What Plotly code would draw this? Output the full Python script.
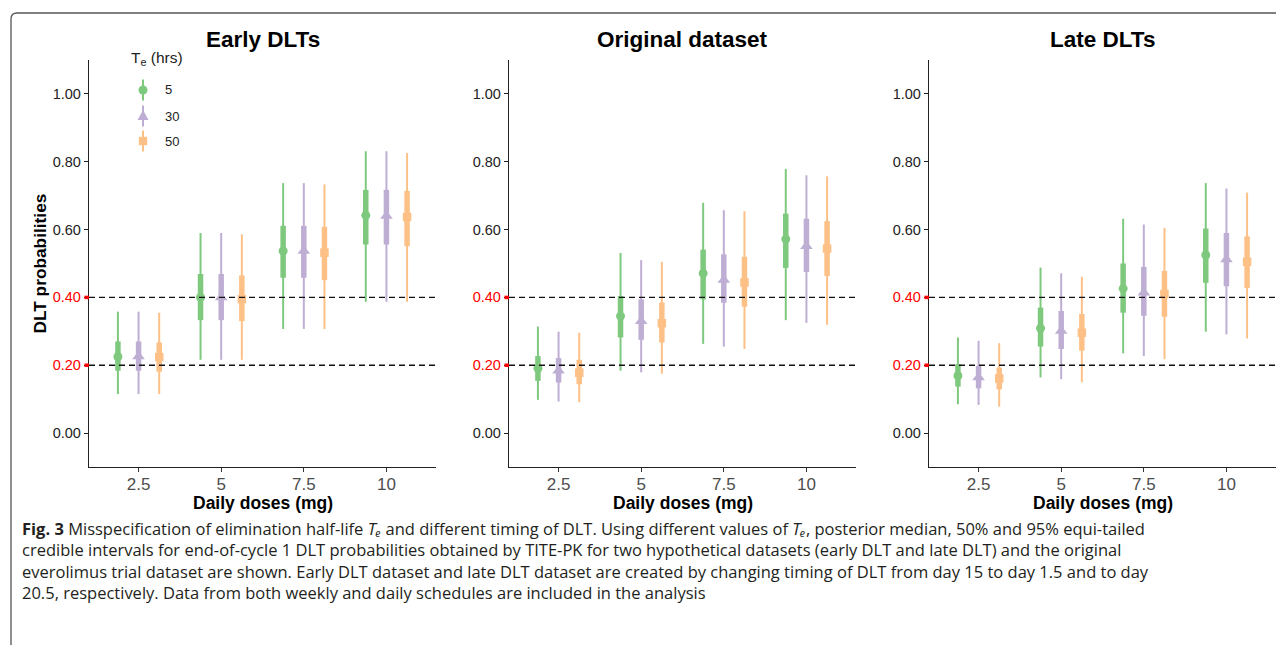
import plotly.graph_objects as go

W, H = 1284, 645
OFF = 8  # browser body margin
FW, FH = W - OFF, H - OFF

# ---------------- data ----------------
doses = [2.5, 5, 7.5, 10]
dose_labels = ["2.5", "5", "7.5", "10"]
te_labels = ["5", "30", "50"]
panel_titles = ["Early DLTs", "Original dataset", "Late DLTs"]
y_ticks = [0.0, 0.2, 0.4, 0.6, 0.8, 1.0]
y_ticklabels = ["0.00", "0.20", "0.40", "0.60", "0.80", "1.00"]
target_lines = [0.2, 0.4]

# rows: Te = 5, 30, 50 ; columns: doses 2.5, 5, 7.5, 10
early_median = [[0.225, 0.400, 0.537, 0.642], [0.226, 0.400, 0.537, 0.640], [0.224, 0.395, 0.532, 0.637]]
early_lo50 = [[0.184, 0.333, 0.458, 0.556], [0.184, 0.333, 0.458, 0.556], [0.181, 0.330, 0.451, 0.551]]
early_hi50 = [[0.270, 0.469, 0.611, 0.717], [0.270, 0.469, 0.611, 0.717], [0.267, 0.465, 0.608, 0.714]]
early_lo95 = [[0.115, 0.216, 0.307, 0.387], [0.115, 0.216, 0.307, 0.387], [0.115, 0.216, 0.307, 0.387]]
early_hi95 = [[0.358, 0.590, 0.737, 0.831], [0.358, 0.590, 0.737, 0.831], [0.355, 0.586, 0.733, 0.826]]

orig_median = [[0.191, 0.345, 0.471, 0.572], [0.184, 0.330, 0.451, 0.551], [0.178, 0.324, 0.444, 0.544]]
orig_lo50 = [[0.154, 0.282, 0.394, 0.487], [0.149, 0.275, 0.384, 0.475], [0.144, 0.267, 0.373, 0.463]]
orig_hi50 = [[0.227, 0.404, 0.541, 0.647], [0.221, 0.394, 0.527, 0.632], [0.216, 0.385, 0.520, 0.625]]
orig_lo95 = [[0.098, 0.184, 0.263, 0.333], [0.093, 0.179, 0.255, 0.325], [0.091, 0.175, 0.248, 0.319]]
orig_hi95 = [[0.314, 0.531, 0.679, 0.779], [0.299, 0.510, 0.657, 0.760], [0.296, 0.505, 0.654, 0.757]]

late_median = [[0.169, 0.309, 0.426, 0.525], [0.164, 0.301, 0.414, 0.512], [0.161, 0.296, 0.410, 0.505]]
late_lo50 = [[0.137, 0.255, 0.355, 0.443], [0.132, 0.248, 0.346, 0.433], [0.129, 0.243, 0.343, 0.428]]
late_hi50 = [[0.203, 0.370, 0.500, 0.603], [0.198, 0.360, 0.490, 0.590], [0.193, 0.351, 0.478, 0.580]]
late_lo95 = [[0.085, 0.164, 0.235, 0.299], [0.083, 0.159, 0.227, 0.291], [0.078, 0.150, 0.218, 0.279]]
late_hi95 = [[0.282, 0.488, 0.632, 0.737], [0.272, 0.471, 0.615, 0.721], [0.265, 0.461, 0.605, 0.709]]

caption_lines = [
    "<b>Fig. 3</b> Misspecification of elimination half-life <i>T\u2091</i> and different timing of DLT. "
    "Using different values of <i>T\u2091</i>, posterior median, 50% and 95% equi-tailed",
    "credible intervals for end-of-cycle 1 DLT probabilities obtained by TITE-PK for two hypothetical datasets "
    "(early DLT and late DLT) and the original",
    "everolimus trial dataset are shown. Early DLT dataset and late DLT dataset are created by changing timing "
    "of DLT from day 15 to day 1.5 and to day",
    "20.5, respectively. Data from both weekly and daily schedules are included in the analysis",
]

# ---------------- styling ----------------
colors = ["#7FC97F", "#BEAED4", "#FDC086"]
symbols = ["circle", "triangle-up", "square"]
msizes = [9, 11, 8.5]
dodge = [-0.625, 0.0, 0.625]
FONT = "Liberation Sans, Arial, sans-serif"
CAPFONT = "Open Sans, Noto Sans, sans-serif"

panels = [
    (early_median, early_lo50, early_hi50, early_lo95, early_hi95),
    (orig_median, orig_lo50, orig_hi50, orig_lo95, orig_hi95),
    (late_median, late_lo50, late_hi50, late_lo95, late_hi95),
]

def px(x):
    return (x - OFF) / FW

def py(y):
    return 1 - (y - OFF) / FH

panel_left = [89, 509, 929]
panel_w = 347
plot_top, plot_bot = 60, 467

fig = go.Figure()
layout = dict(
    width=FW, height=FH,
    margin=dict(l=0, r=0, t=0, b=0),
    paper_bgcolor="white", plot_bgcolor="white",
    showlegend=False,
    font=dict(family=FONT, color="#222222"),
)
shapes = []
annotations = []

for p, (med, lo50, hi50, lo95, hi95) in enumerate(panels):
    sfx = "" if p == 0 else str(p + 1)
    xa, ya = "x" + sfx, "y" + sfx
    for k in range(3):
        xs = [d + dodge[k] for d in doses]
        # 95% interval (thin)
        fig.add_trace(go.Scatter(
            x=xs, y=med[k], mode="markers", xaxis=xa, yaxis=ya,
            marker=dict(size=1, color="rgba(0,0,0,0)"),
            error_y=dict(type="data", symmetric=False,
                         array=[h - m for h, m in zip(hi95[k], med[k])],
                         arrayminus=[m - l for m, l in zip(med[k], lo95[k])],
                         width=0, thickness=2, color=colors[k]),
            hoverinfo="skip"))
        # 50% interval (thick) + median
        fig.add_trace(go.Scatter(
            x=xs, y=med[k], mode="markers", xaxis=xa, yaxis=ya,
            marker=dict(size=msizes[k], color=colors[k], symbol=symbols[k], line=dict(width=0)),
            error_y=dict(type="data", symmetric=False,
                         array=[h - m for h, m in zip(hi50[k], med[k])],
                         arrayminus=[m - l for m, l in zip(med[k], lo50[k])],
                         width=0, thickness=5.5, color=colors[k]),
            name=te_labels[k]))

    x0 = panel_left[p]
    dom_x = [px(x0), px(x0 + panel_w)]
    dom_y = [py(plot_bot), py(plot_top)]
    layout["xaxis" + sfx] = dict(
        domain=dom_x, anchor=ya, range=[1.0, 11.5],
        tickmode="array", tickvals=doses, ticktext=dose_labels,
        showline=True, linecolor="#222222", linewidth=1.3,
        ticks="outside", ticklen=4, tickwidth=1.2, tickcolor="#333333",
        tickfont=dict(size=17, color="#4D4D4D", family=FONT),
        ticklabelstandoff=-3,
        showgrid=False, zeroline=False, fixedrange=True,
    )
    ticktext = []
    for v, t in zip(y_ticks, y_ticklabels):
        if v in target_lines:
            ticktext.append("<span style='color:#FF0000'>" + t + "</span>")
        else:
            ticktext.append(t)
    layout["yaxis" + sfx] = dict(
        domain=dom_y, anchor=xa, range=[-0.1, 1.1],
        tickmode="array", tickvals=y_ticks, ticktext=ticktext,
        showline=True, linecolor="#222222", linewidth=1.3,
        ticks="outside", ticklen=4, tickwidth=1.3, tickcolor="#222222",
        tickfont=dict(size=14.5, color="#222222", family=FONT),
        showgrid=False, zeroline=False, fixedrange=True,
    )
    for yv in target_lines:
        shapes.append(dict(type="line", xref=xa + " domain", yref=ya,
                           x0=0, x1=1, y0=yv, y1=yv, layer="above",
                           line=dict(color="#111111", width=1.3, dash="6px,4px")))
        shapes.append(dict(type="line", xref=xa + " domain", yref=ya,
                           x0=-4.5 / panel_w, x1=0, y0=yv, y1=yv, layer="above",
                           line=dict(color="#FF0000", width=3.5)))
    cx = x0 + panel_w / 2
    annotations.append(dict(text="<b>" + panel_titles[p] + "</b>", x=px(cx), y=py(40),
                            xref="paper", yref="paper", showarrow=False,
                            xanchor="center", yanchor="middle",
                            font=dict(size=22.5, color="#000000", family=FONT)))
    annotations.append(dict(text="<b>Daily doses (mg)</b>", x=px(cx), y=py(503),
                            xref="paper", yref="paper", showarrow=False,
                            xanchor="center", yanchor="middle",
                            font=dict(size=17.5, color="#000000", family=FONT)))

# y axis title
annotations.append(dict(text="<b>DLT probabilities</b>", x=px(39), y=py(263.5),
                        xref="paper", yref="paper", showarrow=False, textangle=-90,
                        xanchor="center", yanchor="middle",
                        font=dict(size=17.3, color="#000000", family=FONT)))

# legend (manual, in panel 1)
annotations.append(dict(text="T<sub>e</sub> (hrs)", x=px(129), y=py(59),
                        xref="paper", yref="paper", showarrow=False,
                        xanchor="left", yanchor="middle",
                        font=dict(size=15.5, color="#222222", family=FONT)))
leg_y = [90, 116, 141]
lx = 143
for k in range(3):
    cy = leg_y[k]
    shapes.append(dict(type="line", xref="paper", yref="paper",
                       x0=px(lx), x1=px(lx), y0=py(cy - 10.5), y1=py(cy + 10.5),
                       line=dict(color=colors[k], width=2)))
    if k == 0:
        r = 4.5
        shapes.append(dict(type="circle", xref="paper", yref="paper",
                           x0=px(lx - r), x1=px(lx + r), y0=py(cy + r), y1=py(cy - r),
                           fillcolor=colors[k], line=dict(width=0)))
    elif k == 1:
        path = "M %f,%f L %f,%f L %f,%f Z" % (px(lx - 5.5), py(cy + 4), px(lx + 5.5), py(cy + 4),
                                              px(lx), py(cy - 6))
        shapes.append(dict(type="path", xref="paper", yref="paper", path=path,
                           fillcolor=colors[k], line=dict(width=0)))
    else:
        r = 4.2
        shapes.append(dict(type="rect", xref="paper", yref="paper",
                           x0=px(lx - r), x1=px(lx + r), y0=py(cy + r), y1=py(cy - r),
                           fillcolor=colors[k], line=dict(width=0)))
    annotations.append(dict(text=te_labels[k], x=px(163), y=py(cy),
                            xref="paper", yref="paper", showarrow=False,
                            xanchor="left", yanchor="middle",
                            font=dict(size=13, color="#222222", family=FONT)))

# figure frame (rounded top-left corner)
frame = "M %f,%f L %f,%f Q %f,%f %f,%f L %f,%f" % (
    px(11), py(660), px(11), py(19), px(11), py(13), px(17), py(13), px(1300), py(13))
shapes.append(dict(type="path", xref="paper", yref="paper", path=frame,
                   line=dict(color="#555555", width=1.3)))

# caption (one multi-line text block)
annotations.append(dict(text="<br>".join(caption_lines), x=px(20), y=py(560),
                        xref="paper", yref="paper",
                        showarrow=False, xanchor="left", yanchor="middle", align="left",
                        font=dict(size=16.5, color="#231F20", family=CAPFONT)))

layout["shapes"] = shapes
layout["annotations"] = annotations
fig.update_layout(**layout)
fig.write_html("out.html")
